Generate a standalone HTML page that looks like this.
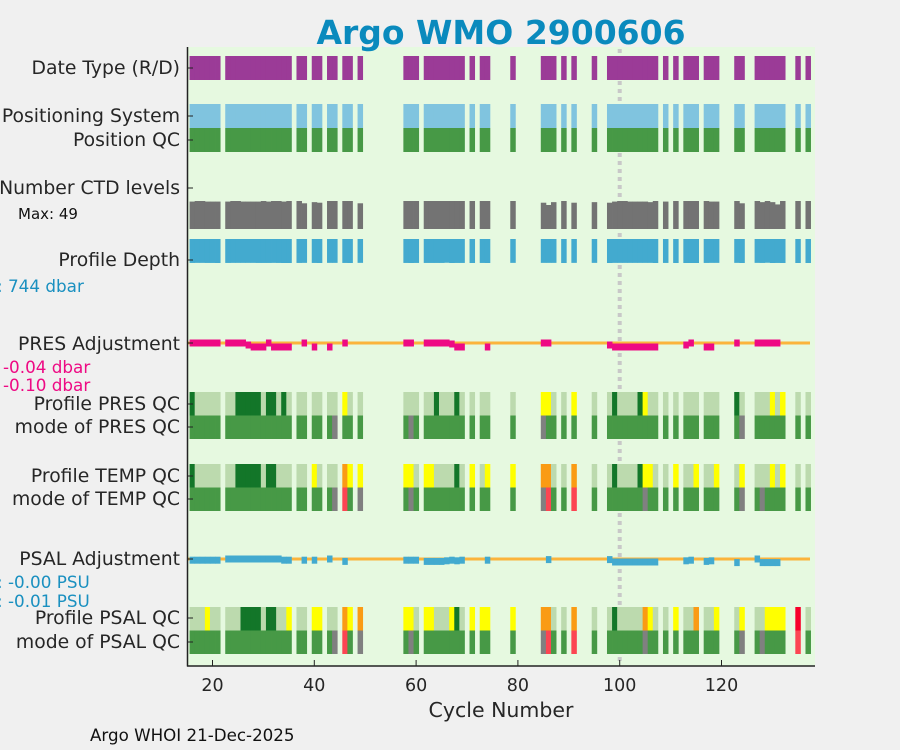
<!DOCTYPE html>
<html><head><meta charset="utf-8"><style>
body{margin:0;background:#f0f0f0;}
svg{display:block;font-family:"DejaVu Sans","Liberation Sans",sans-serif;}
</style></head><body>
<svg id="chart" width="900" height="750" viewBox="0 0 900 750">
<rect x="0" y="0" width="900" height="750" fill="#f0f0f0"/>
<rect x="188" y="47" width="627" height="619" fill="#e6f9e0"/>
<text x="501" y="44" text-anchor="middle" font-size="33" font-weight="bold" fill="#0a8abd">Argo WMO 2900606</text>
<g id="marks"></g>
<line x1="187.5" y1="47" x2="187.5" y2="666.5" stroke="#222" stroke-width="1.5"/>
<line x1="187" y1="666" x2="815" y2="666" stroke="#222" stroke-width="1.5"/>
<g id="labels" font-size="18.8" fill="#262626" text-anchor="end">
<text x="180" y="74">Date Type (R/D)</text>
<text x="180" y="122">Positioning System</text>
<text x="180" y="146">Position QC</text>
<text x="180" y="194">Number CTD levels</text>
<text x="180" y="266">Profile Depth</text>
<text x="180" y="350">PRES Adjustment</text>
<text x="180" y="410">Profile PRES QC</text>
<text x="180" y="433">mode of PRES QC</text>
<text x="180" y="482">Profile TEMP QC</text>
<text x="180" y="505">mode of TEMP QC</text>
<text x="180" y="565">PSAL Adjustment</text>
<text x="180" y="624">Profile PSAL QC</text>
<text x="180" y="648">mode of PSAL QC</text>
</g>
<g text-anchor="start">
<text x="18" y="219" fill="#111" font-size="15">Max: 49</text>
<text x="-3" y="292" fill="#1a90c0" font-size="16.8">:  744 dbar</text>
<text x="3" y="373" fill="#ee0a84" font-size="16.8">-0.04 dbar</text>
<text x="3" y="391" fill="#ee0a84" font-size="16.8">-0.10 dbar</text>
<text x="-3" y="588" fill="#1a90c0" font-size="16.8">: -0.00 PSU</text>
<text x="-3" y="607" fill="#1a90c0" font-size="16.8">: -0.01 PSU</text>
</g>
<text x="501" y="717" text-anchor="middle" font-size="20.5" fill="#262626">Cycle Number</text>
<text x="90" y="741" font-size="16.7" fill="#111">Argo WHOI 21-Dec-2025</text>
<g id="xticks"></g>
</svg>
<script>
const cycles=[16,17,18,19,20,21,23,24,25,26,27,28,29,30,31,32,33,34,35,37,38,40,41,43,44,46,47,49,58,59,60,62,63,64,65,66,67,68,69,71,73,74,79,85,86,87,89,91,95,98,99,100,101,102,103,104,105,106,107,109,111,113,114,115,117,118,119,123,124,127,128,129,130,131,132,135,137];
const xTickValues=[20,40,60,80,100,120];
const presQcD=[16,25,26,27,28,29,31,32,34,64,68,99,104,123];
const presQcY=[46,85,86,91,105,130,132];
const presModeX=[44,59,85,124];
const tempQcD=[16,25,26,27,28,29,31,32,68,99,104];
const tempQcY=[40,47,49,58,59,62,63,71,74,79,105,106,111,115,119,124,130,132];
const tempQcO=[46,85,86,91];
const tempModeX=[44,49,59,85,105,124,128];
const tempModeR=[46,86,91];
const psalQcD=[26,27,28,29,31,32,68,99];
const psalQcY=[19,35,40,41,47,58,59,62,63,67,71,73,74,79,106,111,119,124,129,130,131,132];
const psalQcO=[46,49,85,86,91,105,115];
const psalQcR=[135];
const psalModeX=[44,49,59,85,105,124,128];
const psalModeR=[46,86,91,135];
const ctdLevels=[48,49,49,48,48,48,48,49,49,48,48,48,48,49,48,49,49,48,49,49,45,47,46,49,49,49,49,45,49,49,49,49,49,49,49,49,49,49,49,49,49,49,49,46,42,47,49,46,47,46,48,49,49,48,48,48,48,47,49,48,49,49,49,49,49,48,48,49,45,49,47,49,47,43,49,49,49];
const profileDepth=[742,740,740,742,742,744,742,740,740,740,740,740,742,742,742,740,742,744,744,742,740,742,744,740,740,742,744,740,742,744,742,742,742,742,742,736,744,742,742,744,742,744,740,740,740,740,744,740,740,744,740,740,740,740,740,740,740,740,744,742,744,744,744,744,742,740,740,740,744,740,742,736,744,742,744,744,744];
const presAdjCycles=[16,17,18,19,20,21,23,24,25,26,27,28,29,30,31,32,33,34,35,38,40,43,46,58,59,62,63,64,65,66,67,68,69,74,85,86,98,99,100,101,102,103,104,105,106,107,113,114,117,118,123,127,128,129,130,131];
const presAdjValues=[0,0,0,0,0,0,0,0,0,0,-0.02,-0.04,-0.04,-0.04,0,-0.04,-0.04,-0.04,-0.04,0,-0.04,-0.04,0,0,0,0,0,0,0,0,-0.01,-0.04,-0.04,-0.04,0,0,-0.02,-0.04,-0.04,-0.04,-0.04,-0.04,-0.04,-0.04,-0.04,-0.04,-0.02,0,-0.04,-0.04,0,0,0,0,0,0];
const psalAdjCycles=[16,17,18,19,20,21,23,24,25,26,27,28,29,30,31,32,33,34,35,38,40,43,46,58,59,60,62,63,64,65,66,67,68,69,74,86,98,99,100,101,102,103,104,105,106,107,113,114,117,118,123,127,128,129,130,131];
const psalAdjValues=[-0.002,-0.002,-0.002,-0.002,-0.002,-0.002,0,0,0,0,0,0,0,0,0,0,0,-0.002,-0.002,-0.002,-0.002,0,-0.004,-0.002,-0.002,-0.002,-0.004,-0.004,-0.004,-0.004,-0.003,-0.002,-0.003,-0.002,-0.002,-0.001,-0.001,-0.005,-0.005,-0.005,-0.005,-0.005,-0.005,-0.005,-0.005,-0.005,-0.003,-0.002,-0.004,-0.003,-0.006,0,-0.006,-0.006,-0.006,-0.006];

const NS='http://www.w3.org/2000/svg';
const C={L:'#bcdaae',D:'#137629',G:'#479946',Y:'#ffff00',O:'#fa9b14',R:'#fc4552',R2:'#f7002a',X:'#808080'};
function xOf(c){return 212.5+(c-20)*5.09;}
const W=5.09;
const g=document.getElementById('marks');
function mk(tag,attrs){const e=document.createElementNS(NS,tag);for(const k in attrs)e.setAttribute(k,attrs[k]);g.appendChild(e);return e;}
function bar(c,y,h,fill,name){
  const e=mk('rect',{x:(xOf(c)-W/2).toFixed(2),y:y,width:(W+0.4).toFixed(2),height:h,fill:fill});
  
  
}
const ref=mk('line',{x1:xOf(100),x2:xOf(100),y1:49,y2:664,stroke:'#c8c8c8','stroke-width':4,'stroke-dasharray':'4,4'});


[343,559].forEach(function(y,i){
  const l=mk('line',{x1:188,x2:810,y1:y,y2:y,stroke:'#fbb43c','stroke-width':3});
  
  
});
function code(c,maps,def){for(const [arr,k] of maps){if(arr.indexOf(c)>=0)return k;}return def;}
cycles.forEach(function(c,i){
  bar(c,56,24,'#9b3b97','date-type-bar');
  bar(c,104,24,'#80c4df','positioning-system-bar');
  bar(c,128,24,'#479946','position-qc-bar');
  const hC=28*ctdLevels[i]/49;
  bar(c,(229-hC).toFixed(2),hC.toFixed(2),'#737373','ctd-levels-bar');
  const hD=24*profileDepth[i]/744;
  bar(c,239,hD.toFixed(2),'#43aacf','profile-depth-bar');
  bar(c,392,23.5,C[code(c,[[presQcD,'D'],[presQcY,'Y']],'L')],'profile-pres-qc-bar');
  bar(c,415.5,23.5,C[code(c,[[presModeX,'X']],'G')],'mode-pres-qc-bar');
  bar(c,464,23.5,C[code(c,[[tempQcD,'D'],[tempQcY,'Y'],[tempQcO,'O']],'L')],'profile-temp-qc-bar');
  bar(c,487.5,23.5,C[code(c,[[tempModeX,'X'],[tempModeR,'R']],'G')],'mode-temp-qc-bar');
  bar(c,607,23.5,C[code(c,[[psalQcD,'D'],[psalQcY,'Y'],[psalQcO,'O'],[psalQcR,'R2']],'L')],'profile-psal-qc-bar');
  bar(c,630.5,23.5,C[code(c,[[psalModeX,'X'],[psalModeR,'R']],'G')],'mode-psal-qc-bar');
});
presAdjCycles.forEach(function(c,i){
  const y=343-presAdjValues[i]*100;
  bar(c,(y-3.5).toFixed(2),7,'#ee0a84','pres-adjustment-point');
});
psalAdjCycles.forEach(function(c,i){
  const y=559-psalAdjValues[i]*600;
  bar(c,(y-3.5).toFixed(2),7,'#43aacf','psal-adjustment-point');
});
[68,116,140,188,260,343,404,427,476,499,559,618,642].forEach(function(y){
  const t=mk('line',{x1:187,x2:193,y1:y,y2:y,stroke:'#222','stroke-width':1});
  
  
});
const xt=document.getElementById('xticks');
xTickValues.forEach(function(v){
  const x=xOf(v);
  const t=document.createElementNS(NS,'line');
  t.setAttribute('x1',x);t.setAttribute('x2',x);t.setAttribute('y1',660);t.setAttribute('y2',666);
  t.setAttribute('stroke','#222');
  
  
  xt.appendChild(t);
  const s=document.createElementNS(NS,'text');
  s.setAttribute('x',x);s.setAttribute('y',691);s.setAttribute('text-anchor','middle');
  s.setAttribute('font-size','17.5');s.setAttribute('fill','#262626');
  s.textContent=v;
  
  
  xt.appendChild(s);
});
</script>
</body></html>
